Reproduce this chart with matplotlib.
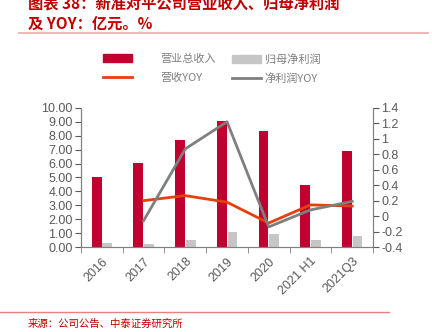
import matplotlib
matplotlib.use("Agg")
import matplotlib.pyplot as plt
import numpy as np
from matplotlib.patches import Patch
from matplotlib.lines import Line2D

plt.rcParams['font.family'] = ['Liberation Sans', 'Noto Sans CJK SC', 'DejaVu Sans']

categories = ['2016', '2017', '2018', '2019', '2020', '2021 H1', '2021Q3']
revenue = [5.02, 6.03, 7.72, 9.03, 8.31, 4.45, 6.92]
net_profit = [0.27, 0.21, 0.52, 1.1, 0.94, 0.52, 0.8]
rev_yoy = [None, 0.20, 0.265, 0.18, -0.09, 0.145, 0.13]
np_yoy = [None, -0.06, 0.87, 1.22, -0.14, 0.08, 0.19]

red = '#C0002F'
grey_bar = '#C6C6C6'
orange = '#E8400C'
grey_line = '#7F7F7F'
tick_c = '#595959'

fig = plt.figure(figsize=(4.32, 3.32), dpi=100)
ax = fig.add_axes([0.1875, 0.256, 0.676, 0.419])
ax2 = ax.twinx()

x = np.arange(len(categories))
w = 0.235
ax.bar(x - 0.125, revenue, width=w, color=red, zorder=2)
ax.bar(x + 0.13, net_profit, width=w, color=grey_bar, zorder=2)

xs = [i for i, v in enumerate(rev_yoy) if v is not None]
ax2.plot(xs, [rev_yoy[i] for i in xs], color=orange, lw=2)
xs2 = [i for i, v in enumerate(np_yoy) if v is not None]
ax2.plot(xs2, [np_yoy[i] for i in xs2], color=grey_line, lw=2)

ax.set_xlim(-0.5, len(categories) - 0.5)
ax.set_ylim(0, 10)
ax.set_yticks(np.arange(0, 10.01, 1))
ax.set_yticklabels([f'{v:.2f}' for v in np.arange(0, 10.01, 1)])
ax2.set_ylim(-0.4, 1.4)
ax2.set_yticks(np.arange(-0.4, 1.41, 0.2))
ax2.set_yticklabels(['-0.4', '-0.2', '0', '0.2', '0.4', '0.6', '0.8', '1', '1.2', '1.4'])

ax.set_xticks(x)
ax.set_xticklabels(categories, rotation=45, ha='right', rotation_mode='anchor')
ax.set_xticks(np.arange(-0.5, len(categories) - 0.4, 1), minor=True)
ax.tick_params(axis='x', which='major', length=0, pad=6, labelsize=9, colors=tick_c)
ax.tick_params(axis='x', which='minor', length=4, color='#808080')
ax.tick_params(axis='y', length=4, labelsize=9, colors=tick_c, pad=2)
ax2.tick_params(axis='y', length=4, labelsize=9, colors=tick_c, pad=2)

for a in (ax, ax2):
    a.spines['top'].set_visible(False)
    for s in ('left', 'right', 'bottom'):
        a.spines[s].set_color('#808080')

# legend, split into two columns
leg1 = fig.legend(handles=[Patch(color=red), Line2D([], [], color=orange, lw=2)],
                  labels=['营业总收入', '营收YOY'],
                  loc='upper left', bbox_to_anchor=(0.215, 0.868), frameon=False,
                  handlelength=2.6, handleheight=0.7, handletextpad=2.6,
                  labelspacing=0.75, prop={'family': 'Noto Sans CJK SC', 'size': 8},
                  labelcolor='#7F7F7F')
leg2 = fig.legend(handles=[Patch(color=grey_bar), Line2D([], [], color=grey_line, lw=2)],
                  labels=['归母净利润', '净利润YOY'],
                  loc='upper left', bbox_to_anchor=(0.515, 0.868), frameon=False,
                  handlelength=2.6, handleheight=0.7, handletextpad=0.3,
                  labelspacing=0.75, prop={'family': 'Noto Sans CJK SC', 'size': 8},
                  labelcolor='#7F7F7F')

# title block (first line is clipped at the top edge, as in the source)
fig.text(0.065, 0.99, '图表 38：新准对平公司营业收入、归母净利润', color='#C00000',
         fontsize=11, fontweight='bold', family=['Noto Sans CJK SC', 'DejaVu Sans'],
         va='center', ha='left')
fig.text(0.065, 0.928, '及 YOY：亿元。%', color='#C00000', fontsize=11,
         fontweight='bold', family=['Noto Sans CJK SC', 'DejaVu Sans'],
         va='center', ha='left')
fig.add_artist(Line2D([0.045, 0.99], [0.9, 0.9], color='#F2B8B8', lw=1.5))

fig.add_artist(Line2D([0.0, 0.9], [0.06, 0.06], color='#E88080', lw=1))
fig.text(0.063, 0.025, '来源：公司公告、中泰证券研究所', color='#C00000', fontsize=7.5,
         family=['Noto Sans CJK SC', 'DejaVu Sans'], va='center', ha='left')

fig.savefig('out.png', dpi=100)
